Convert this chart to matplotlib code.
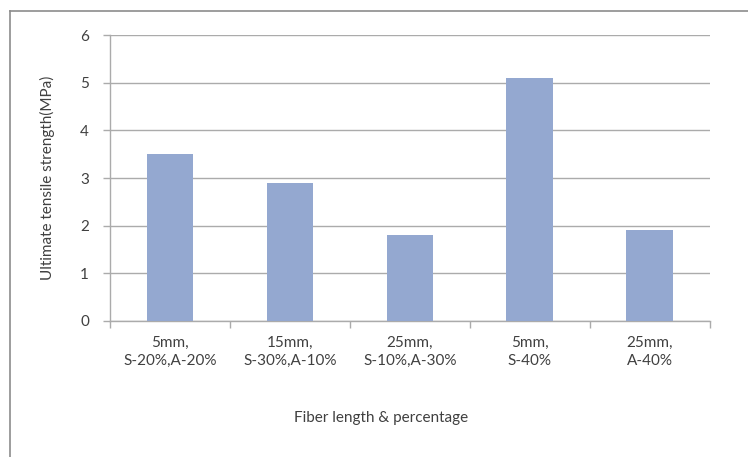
import numpy as np
import matplotlib.pyplot as plt
from matplotlib.lines import Line2D

# Tensile test results
categories = ['5mm,\nS-20%,A-20%', '15mm,\nS-30%,A-10%', '25mm,\nS-10%,A-30%',
              '5mm,\nS-40%', '25mm,\nA-40%']
strength = [3.5, 2.9, 1.8, 5.1, 1.9]

plt.rcParams['font.family'] = ['Lato', 'DejaVu Sans']
text_color = '#404040'
grid_color = '#ABABAB'

fig = plt.figure(figsize=(7.48, 4.57), dpi=100)
ax = fig.add_axes([0.147, 0.298, 0.802, 0.625])

x = np.arange(len(categories))
ax.bar(x, strength, width=0.39, color='#94A8D0', zorder=3)

ax.set_xlim(-0.5, len(categories) - 0.5)
ax.set_ylim(0, 6)
ax.set_yticks(range(0, 7))
ax.yaxis.grid(True, color=grid_color, linewidth=1, zorder=0)

# category boundaries carry the x tick marks, labels sit at the centres
ax.set_xticks(np.arange(-0.5, len(categories), 1.0))
ax.set_xticklabels([])
ax.set_xticks(x, minor=True)
ax.set_xticklabels(categories, minor=True, fontsize=11, color=text_color,
                   linespacing=1.35)
ax.tick_params(axis='x', which='minor', length=0, pad=11)
ax.tick_params(axis='x', which='major', length=5, color=grid_color, width=1)
ax.tick_params(axis='y', length=5, color=grid_color, width=1, pad=10,
               labelsize=11, labelcolor=text_color)

for side in ['top', 'right']:
    ax.spines[side].set_visible(False)
for side in ['left', 'bottom']:
    ax.spines[side].set_color(grid_color)
    ax.spines[side].set_linewidth(1)

ax.set_ylabel('Ultimate tensile strength(MPa)', fontsize=11, color=text_color,
              labelpad=18)
fig.text(381 / 748, 1 - 418 / 457, 'Fiber length & percentage', fontsize=11,
         color=text_color, ha='center', va='center')

# outer chart frame
frame_color = '#8C8C8C'
fig.add_artist(Line2D([10 / 748, 10 / 748], [0, 1 - 11 / 457],
                      transform=fig.transFigure, color=frame_color, linewidth=1.2))
fig.add_artist(Line2D([10 / 748, 1], [1 - 11 / 457, 1 - 11 / 457],
                      transform=fig.transFigure, color=frame_color, linewidth=1.2))

fig.savefig('out.png', dpi=100)
